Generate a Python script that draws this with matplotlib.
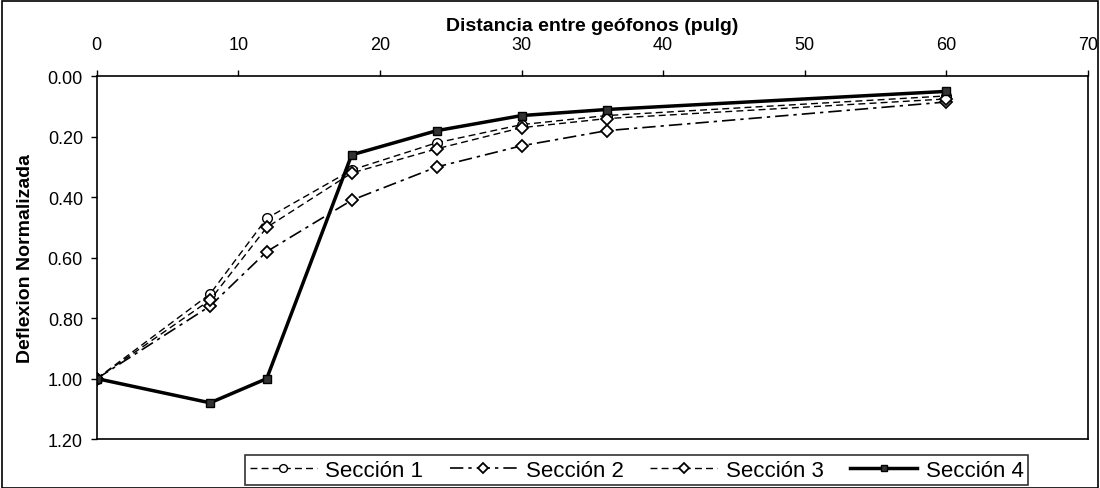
import matplotlib.pyplot as plt
import matplotlib.patches as patches
import numpy as np

plt.rcParams['font.family'] = ['Liberation Sans', 'DejaVu Sans']

# distancias entre geófonos (pulg)
distancia = [0, 8, 12, 18, 24, 30, 36, 60]

# deflexiones normalizadas por sección
seccion_1 = [1.00, 0.72, 0.47, 0.31, 0.22, 0.16, 0.13, 0.065]
seccion_2 = [1.00, 0.76, 0.58, 0.41, 0.30, 0.23, 0.18, 0.085]
seccion_3 = [1.00, 0.74, 0.50, 0.32, 0.24, 0.17, 0.14, 0.075]
seccion_4 = [1.00, 1.08, 1.00, 0.26, 0.18, 0.13, 0.11, 0.05]

etiquetas = ["Sección 1", "Sección 2", "Sección 3", "Sección 4"]

fig = plt.figure(figsize=(11, 4.89), dpi=100)
ax = fig.add_axes([0.088, 0.100, 0.901, 0.742])

ax.plot(distancia, seccion_1, color="black", linestyle=(0, (5, 3)), linewidth=1,
        marker="o", markersize=7, markerfacecolor="white", markeredgecolor="black",
        label=etiquetas[0])
ax.plot(distancia, seccion_2, color="black", linestyle=(0, (8, 3, 2, 3)), linewidth=1.2,
        marker="D", markersize=6, markerfacecolor="white", markeredgecolor="black",
        markeredgewidth=1.3, label=etiquetas[1])
ax.plot(distancia, seccion_3, color="black", linestyle=(0, (5, 3)), linewidth=1,
        marker="D", markersize=6, markerfacecolor="white", markeredgecolor="black",
        markeredgewidth=1.3, label=etiquetas[2])
ax.plot(distancia, seccion_4, color="black", linestyle="solid", linewidth=2.5,
        marker="s", markersize=6, markerfacecolor="#333333", markeredgecolor="black",
        label=etiquetas[3])

ax.set_xlim(0, 70)
ax.set_ylim(1.20, 0.00)
ax.set_xticks(np.arange(0, 71, 10))
ax.set_yticks(np.arange(0, 1.21, 0.2))
ax.yaxis.set_major_formatter(plt.FormatStrFormatter("%.2f"))

ax.xaxis.tick_top()
ax.xaxis.set_label_position("top")
ax.tick_params(axis="both", labelsize=13, length=4, width=1, color="black")
ax.tick_params(axis="x", pad=13)
ax.tick_params(axis="y", pad=6)
ax.set_xlabel("Distancia entre geófonos (pulg)", fontsize=14, fontweight="bold", labelpad=4)
ax.set_ylabel("Deflexion Normalizada", fontsize=14, fontweight="bold", labelpad=10)

for s in ax.spines.values():
    s.set_linewidth(1.2)
    s.set_color("black")

leg = fig.legend(loc="center left", bbox_to_anchor=(0.213, 0.036), ncol=4,
                 frameon=True, fancybox=False, edgecolor="black", fontsize=16,
                 handlelength=3.0, handletextpad=0.4, columnspacing=1.2,
                 borderpad=0.2, markerscale=0.8)
leg.get_frame().set_linewidth(1.2)

# marco exterior de la figura
fig.patches.append(patches.Rectangle((0.002, 0.0), 0.996, 0.996, transform=fig.transFigure,
                                     fill=False, edgecolor="black", linewidth=1.2))

fig.savefig("out.png", dpi=100)
